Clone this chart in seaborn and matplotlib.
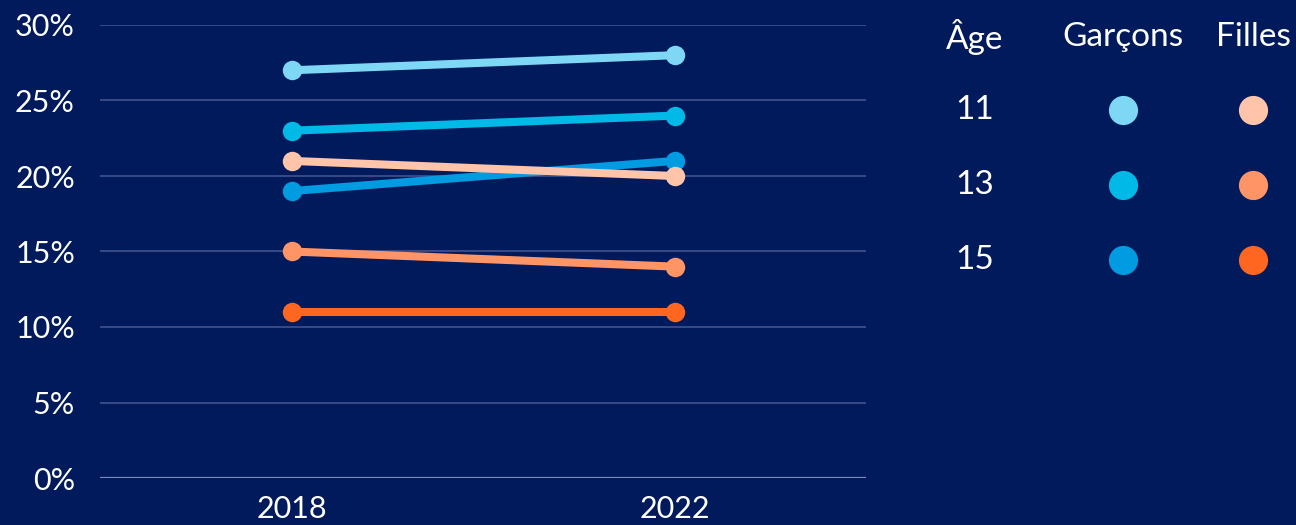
import matplotlib
matplotlib.use("Agg")
import matplotlib.pyplot as plt
import seaborn as sns
import pandas as pd

years = ["2018", "2022"]
ages = ["11", "13", "15"]
boys = {"11": [27, 28], "13": [23, 24], "15": [19, 21]}
girls = {"11": [21, 20], "13": [15, 14], "15": [11, 11]}
boy_colors = {"11": "#7DD7F5", "13": "#00B9E6", "15": "#009BE0"}
girl_colors = {"11": "#FFC4AA", "13": "#FF9566", "15": "#FF661F"}
yticks = [0, 5, 10, 15, 20, 25, 30]
col_headers = ["Âge", "Garçons", "Filles"]

BG = "#011A5B"
sns.set_theme(style="white")
plt.rcParams["font.family"] = ["Lato", "DejaVu Sans"]

rows = []
palette = {}
for a in ages:
    key = "G" + a
    palette[key] = boy_colors[a]
    for y, v in zip(years, boys[a]):
        rows.append({"year": y, "value": v, "series": key})
for a in ages:
    key = "F" + a
    palette[key] = girl_colors[a]
    for y, v in zip(years, girls[a]):
        rows.append({"year": y, "value": v, "series": key})
df = pd.DataFrame(rows)

fig = plt.figure(figsize=(12.96, 5.25), dpi=100, facecolor=BG)
ax = fig.add_axes([100 / 1296, 47 / 525, 766 / 1296, 453 / 525])
ax.set_facecolor(BG)

for y in yticks:
    ax.axhline(y, color="#7B8BBE" if y == 0 else "#3C4F8C", lw=1.6 if y == 0 else 1.3, zorder=0)

sns.lineplot(data=df, x="year", y="value", hue="series", palette=palette,
             hue_order=list(palette.keys()), marker="o", markersize=14,
             markeredgewidth=0, linewidth=5.8, legend=False, ax=ax, clip_on=False)

ax.set_xlim(-0.5, 1.5)
ax.set_ylim(0, 30)
ax.set_yticks(yticks)
ax.set_yticklabels([f"{t}%" for t in yticks])
ax.set_xlabel("")
ax.set_ylabel("")
ax.tick_params(axis="both", length=0, labelsize=22, colors="white")
ax.tick_params(axis="y", pad=18)
ax.tick_params(axis="x", pad=12)
for s in ax.spines.values():
    s.set_visible(False)

# legend table
hx = [975, 1123, 1253]
for x, t in zip(hx, col_headers):
    fig.text(x / 1296, 1 - 37 / 525, t, color="white", fontsize=24, ha="center", va="center")
ry = [110, 185, 260]
for a, y in zip(ages, ry):
    fy = 1 - y / 525
    fig.text(975 / 1296, fy, a, color="white", fontsize=24, ha="center", va="center")
    ax.plot([1123 / 1296], [fy], marker="o", markersize=21, color=boy_colors[a],
            markeredgewidth=0, transform=fig.transFigure, clip_on=False)
    ax.plot([1253 / 1296], [fy], marker="o", markersize=21, color=girl_colors[a],
            markeredgewidth=0, transform=fig.transFigure, clip_on=False)

fig.savefig("out.png", dpi=100, facecolor=BG)
